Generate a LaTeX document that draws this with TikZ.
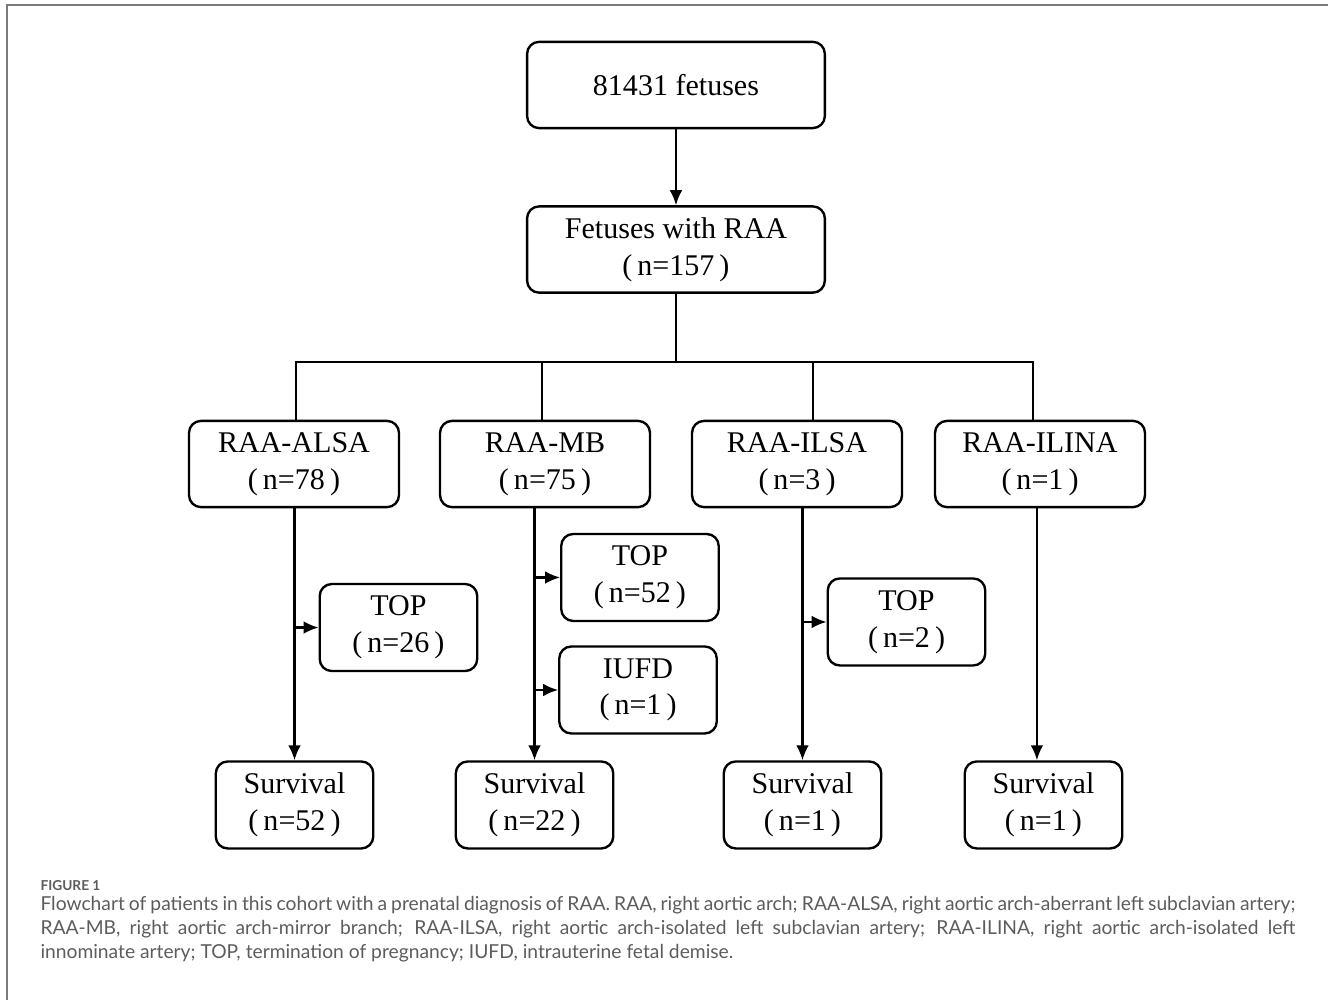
\documentclass[tikz,border=0pt]{standalone}
\usepackage{fontspec}
\setmainfont{Liberation Serif}
\newfontfamily\capfont{Lato}
\usepackage{xcolor}
\usepackage{tikz}
\usetikzlibrary{arrows.meta, positioning}

\definecolor{framegray}{HTML}{7A7A7A}
\definecolor{captiongray}{HTML}{5C5C5C}

\begin{document}
\begin{tikzpicture}[
    stage/.style={rectangle, rounded corners=0.16cm, draw, line width=0.9pt, minimum width=3.97cm, minimum height=1.15cm, align=center, font=\fontsize{11.4}{13.9}\selectfont},
    group/.style={stage, minimum width=2.8cm},
    outcome/.style={stage, minimum width=2.1cm, minimum height=1.16cm},
    arrow/.style={-{Latex[length=2mm,width=1.7mm]}, thick},
    line/.style={thick}
]
\useasboundingbox (0,0) rectangle (17.707,-13.333);

% Frame
\draw[framegray, line width=0.75pt] (0.093,-13.333) -- (0.093,-0.067) -- (17.707,-0.067);

% Top levels
\node[stage] (total) at (9.013,-1.133) {81431 fetuses};
\node[stage] (raa) at (9.013,-3.327) {Fetuses with RAA\\(\,n=157\,)};

% Subtypes
\node[group] (alsa) at (3.92,-6.187) {RAA-ALSA\\(\,n=78\,)};
\node[group] (mb) at (7.267,-6.187) {RAA-MB\\(\,n=75\,)};
\node[group] (ilsa) at (10.627,-6.187) {RAA-ILSA\\(\,n=3\,)};
\node[group] (ilina) at (13.867,-6.187) {RAA-ILINA\\(\,n=1\,)};

% Losses
\node[outcome] (top26) at (5.313,-8.367) {TOP\\(\,n=26\,)};
\node[outcome] (top52) at (8.533,-7.7) {TOP\\(\,n=52\,)};
\node[outcome] (iufd) at (8.507,-9.2) {IUFD\\(\,n=1\,)};
\node[outcome] (top2) at (12.087,-8.293) {TOP\\(\,n=2\,)};

% Survivors
\node[outcome] (surv1) at (3.927,-10.733) {Survival\\(\,n=52\,)};
\node[outcome] (surv2) at (7.127,-10.733) {Survival\\(\,n=22\,)};
\node[outcome] (surv3) at (10.7,-10.733) {Survival\\(\,n=1\,)};
\node[outcome] (surv4) at (13.913,-10.733) {Survival\\(\,n=1\,)};

% Arrows
\draw[arrow] (total) -- (raa);
\coordinate (bus) at (9.013,-4.827);
\draw[line] (raa) -- (bus);
\draw[line] ([xshift=0.027cm]alsa.north) |- (bus) -| ([xshift=-0.093cm]ilina.north);
\draw[line] ([xshift=-0.04cm]mb.north) -- ([xshift=-0.04cm]mb.north |- bus);
\draw[line] ([xshift=0.213cm]ilsa.north) -- ([xshift=0.213cm]ilsa.north |- bus);

\draw[arrow] (surv1 |- alsa.south) -- (surv1);
\draw[arrow] (surv2 |- mb.south) -- (surv2);
\draw[arrow] (surv3 |- ilsa.south) -- (surv3);
\draw[arrow] ([xshift=-0.087cm]surv4.north |- ilina.south) -- ([xshift=-0.087cm]surv4.north);

\draw[arrow] (top26.west -| surv1) -- (top26.west);
\draw[arrow] (top52.west -| surv2) -- (top52.west);
\draw[arrow] (iufd.west -| surv2) -- (iufd.west);
\draw[arrow] (top2.west -| surv3) -- (top2.west);

% Caption
\node[anchor=base west, inner sep=0, text=captiongray, font=\capfont\bfseries\fontsize{5.2}{6}\selectfont] (figlabel) at (0.533,-11.867) {FIGURE 1};
\node[anchor=north west, inner sep=0, text width=16.73cm, align=justify, text=captiongray, font=\capfont\fontsize{7.3}{9.07}\selectfont] (caption) at (0.533,-11.95) {Flowchart of patients in this cohort with a prenatal diagnosis of RAA. RAA, right aortic arch; RAA-ALSA, right aortic arch-aberrant left subclavian artery;\linebreak RAA-MB, right aortic arch-mirror branch; RAA-ILSA, right aortic arch-isolated left subclavian artery; RAA-ILINA, right aortic arch-isolated left\linebreak innominate artery; TOP, termination of pregnancy; IUFD, intrauterine fetal demise.};

\end{tikzpicture}
\end{document}
